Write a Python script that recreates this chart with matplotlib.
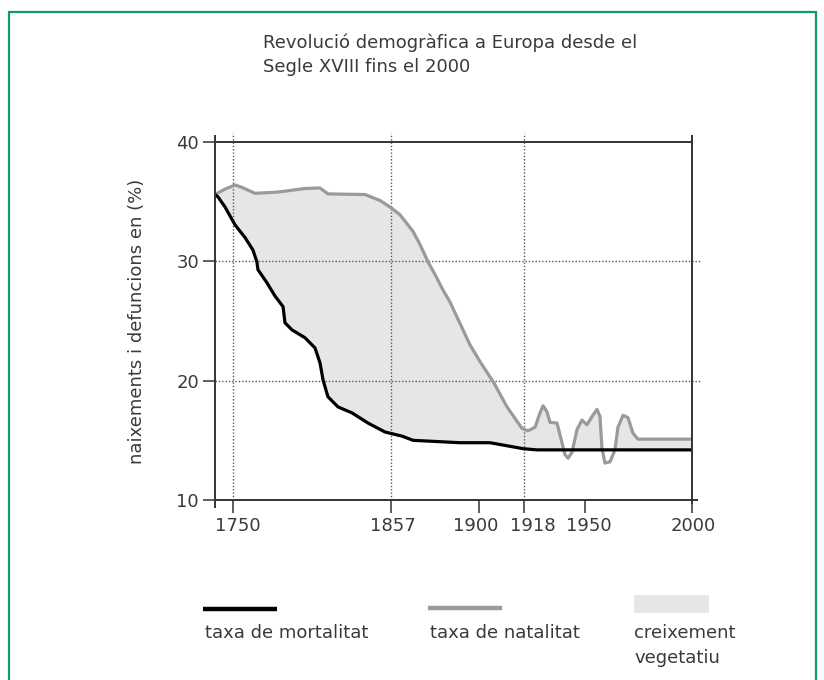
import numpy as np
import matplotlib
matplotlib.use("Agg")
import matplotlib.pyplot as plt
from matplotlib.lines import Line2D
from matplotlib.patches import Rectangle

plt.rcParams['font.family'] = 'DejaVu Sans'

# -----------------------
# Data
# -----------------------
natalitat_years = [1738, 1744.7, 1751.4, 1756, 1764.9, 1780, 1798.7, 1808.9, 1814.3,
                   1839.4, 1849.5, 1857, 1861.4, 1867.8, 1871.2, 1875.1, 1878.5,
                   1882.4, 1885.8, 1892.2, 1895.6, 1900.4,
                   1906, 1911.2, 1917.2, 1920.1, 1923.8, 1926.4, 1928, 1930, 1931.7,
                   1935.3, 1936.9, 1939.5, 1941.1, 1943.2, 1945.8, 1948.4, 1950.9,
                   1953.3, 1955.6, 1957, 1957.9, 1959.3, 1961.7, 1964, 1965.4, 1967.8,
                   1970.1, 1972.4, 1974.8, 2000]
natalitat = [35.6, 36.05, 36.4, 36.2, 35.7, 35.8, 36.1, 36.15, 35.65,
             35.6, 35.1, 34.5, 33.9, 32.5, 31.4, 29.95, 28.9,
             27.6, 26.6, 24.25, 23.0, 21.6,
             19.8, 17.8, 16.0, 15.8, 16.1, 17.3, 17.9, 17.4, 16.5,
             16.45, 15.45, 13.8, 13.5, 14.0, 15.9, 16.7, 16.3,
             17.0, 17.6, 17.0, 14.4, 13.1, 13.2, 14.2, 16.1, 17.1,
             16.9, 15.6, 15.1, 15.1]

mortalitat_years = [1738, 1740, 1744.7, 1751.4, 1758.1, 1763.5, 1766.2, 1766.9, 1773,
                    1778.4, 1783.9, 1785.2, 1790, 1798.7, 1805.5, 1808.9, 1811,
                    1814.3, 1821.1, 1830.6, 1841.4, 1852.9, 1862.4, 1867.8, 1890.8,
                    1904.4, 1912.4, 1917.6, 1924.8, 2000]
mortalitat = [35.6, 35.4, 34.55, 33.05, 32.0, 30.95, 29.95, 29.3, 28.2,
              27.1, 26.2, 24.85, 24.25, 23.6, 22.75, 21.5, 20.05,
              18.65, 17.8, 17.3, 16.45, 15.7, 15.35, 15.0, 14.8,
              14.8, 14.5, 14.3, 14.2, 14.2]

year_ticks = [1750, 1857, 1900, 1918, 1950, 2000]
grid_years = [1750, 1857, 1918]
y_ticks = [10, 20, 30, 40]
grid_values = [20, 30]

# the time axis of the original is not linear: piecewise mapping
scale_years = [1738, 1750, 1857, 1900, 1918, 1950, 2000]
scale_pos = [0, 18, 176, 264, 309, 370, 477]
# small horizontal nudges of the year labels (px), as in the original
label_shift = [5, 2, -3, 9, 4, 1]


def fwd(x):
    return np.interp(x, scale_years, scale_pos)


def inv(p):
    return np.interp(p, scale_pos, scale_years)


TXT = '#3a3a3a'
AXC = '#333333'
GREY = '#9a9a9a'
FILL = '#e6e6e6'
FS = 13

W, H = 824, 680
fig = plt.figure(figsize=(W / 100, H / 100), dpi=100)
ax = fig.add_axes([215 / W, 1 - 500 / H, 477 / W, 358 / H])
ax.set_xscale('function', functions=(fwd, inv))

# fill between curves (creixement vegetatiu)
xx = np.union1d(natalitat_years, mortalitat_years)
nat_i = np.interp(xx, natalitat_years, natalitat)
mor_i = np.interp(xx, mortalitat_years, mortalitat)
ax.fill_between(xx, mor_i, nat_i, where=nat_i >= mor_i, interpolate=True,
                color=FILL, lw=0, zorder=1)

# dotted grid, slightly overshooting the frame like the original
for gy in grid_years:
    ax.axvline(gy, ymin=0, ymax=1.025, color='#555555', lw=1.0,
               ls=(0, (1, 1.4)), clip_on=False, zorder=2)
for gv in grid_values:
    ax.axhline(gv, xmin=0, xmax=1.017, color='#555555', lw=1.0,
               ls=(0, (1, 1.4)), clip_on=False, zorder=2)

ax.plot(natalitat_years, natalitat, color=GREY, lw=2.3, zorder=3,
        solid_joinstyle='round', solid_capstyle='round')
ax.plot(mortalitat_years, mortalitat, color='black', lw=2.3, zorder=4,
        solid_joinstyle='round', solid_capstyle='round')

ax.set_xlim(1738, 2000)
ax.set_ylim(10, 40)

# frame
for s in ax.spines.values():
    s.set_visible(False)
frame_kw = dict(transform=ax.transAxes, color=AXC, lw=1.4, clip_on=False,
                zorder=5, solid_capstyle='butt')
ax.plot([0, 0], [-0.022, 1.02], **frame_kw)
ax.plot([1, 1], [-0.01, 1.02], **frame_kw)
ax.plot([0, 1], [1, 1], **frame_kw)
ax.plot([0, 1.013], [0, 0], **frame_kw)

ax.set_xticks(year_ticks)
ax.set_xticklabels([''] * len(year_ticks))
ax.xaxis.set_minor_locator(plt.NullLocator())
ax.set_yticks(y_ticks)
ax.tick_params(axis='both', direction='out', length=9, width=1.1,
               color=AXC, labelcolor=TXT, labelsize=FS)
ax.tick_params(axis='y', pad=2.5)

# year labels, drawn separately so 1900/1918 don't collide
for yr, dx in zip(year_ticks, label_shift):
    ax.annotate(str(yr), xy=(yr, 0), xycoords=('data', 'axes fraction'),
                xytext=(dx * 0.72, -12.5), textcoords='offset points',
                ha='center', va='top', fontsize=FS, color=TXT,
                annotation_clip=False)

ax.set_ylabel('naixements i defuncions en (%)', fontsize=FS, color=TXT)
ax.yaxis.set_label_coords(-(215 - 146) / 477, 0.5)

# title
fig.text(263 / W, 1 - 43 / H, 'Revolució demogràfica a Europa desde el',
         fontsize=FS, color=TXT, ha='left', va='center')
fig.text(263 / W, 1 - 67 / H, 'Segle XVIII fins el 2000',
         fontsize=FS, color=TXT, ha='left', va='center')

# legend drawn under the chart
fig.add_artist(Line2D([203 / W, 277 / W], [1 - 609 / H, 1 - 609 / H],
                      color='black', lw=3.2, solid_capstyle='butt'))
fig.add_artist(Line2D([428 / W, 502 / W], [1 - 608 / H, 1 - 608 / H],
                      color=GREY, lw=3.2, solid_capstyle='butt'))
fig.add_artist(Rectangle((634 / W, 1 - 613 / H), 75 / W, 18 / H,
                         transform=fig.transFigure, color=FILL, lw=0))
fig.text(205 / W, 1 - 633 / H, 'taxa de mortalitat', fontsize=FS,
         color=TXT, ha='left', va='center')
fig.text(430 / W, 1 - 633 / H, 'taxa de natalitat', fontsize=FS,
         color=TXT, ha='left', va='center')
fig.text(634 / W, 1 - 633 / H, 'creixement', fontsize=FS,
         color=TXT, ha='left', va='center')
fig.text(634 / W, 1 - 658 / H, 'vegetatiu', fontsize=FS,
         color=TXT, ha='left', va='center')

# green page border (bottom edge is cut off in the original)
fig.add_artist(Rectangle((8.5 / W, -0.05), 807 / W, 1.05 - 12.5 / H,
                         transform=fig.transFigure, fill=False,
                         edgecolor='#129a6e', lw=1.6))

fig.savefig('out.png', dpi=100)
